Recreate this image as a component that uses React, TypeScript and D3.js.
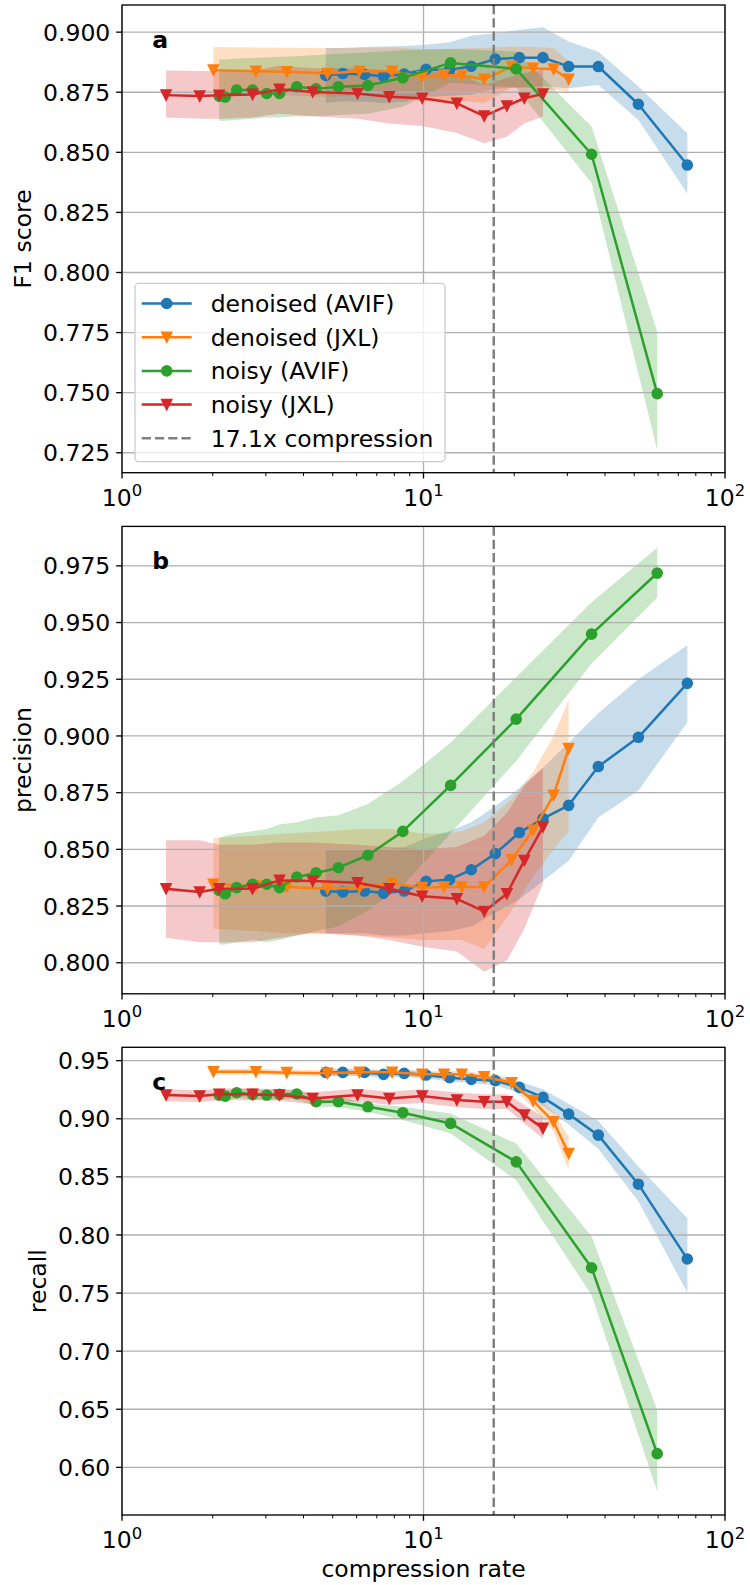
import React from "react";
import * as d3 from "d3";

const width = 750;
const height = 1585;
const left = 122;
const right = 725;
const fontSize = 23.5;
const font = "DejaVu Sans, Verdana, sans-serif";
const blue = "#1f77b4";
const orange = "#ff7f0e";
const green = "#2ca02c";
const red = "#d62728";
const cutoff = 17.1;

// compression rates of each run
const xDenoisedAvif = [4.74, 5.4, 6.37, 7.37, 8.63, 10.2, 12.2, 14.4, 17.3, 20.8, 24.9, 30.3, 38.0, 51.6, 75.0];
const xDenoisedJxl = [2.01, 2.78, 3.52, 4.8, 6.13, 7.87, 9.9, 11.7, 13.4, 15.9, 19.6, 23.1, 27.0, 30.3];
const xNoisyAvif = [2.1, 2.2, 2.4, 2.71, 3.02, 3.33, 3.8, 4.4, 5.22, 6.54, 8.54, 12.3, 20.3, 36.1, 59.6];
const xNoisyJxl = [1.4, 1.81, 2.1, 2.71, 3.33, 4.29, 6.04, 7.7, 9.9, 12.9, 15.9, 18.9, 21.6, 24.9];

// F1 score
const f1DenoisedAvif = [0.882, 0.8828, 0.8824, 0.8817, 0.8826, 0.8845, 0.8843, 0.8858, 0.8888, 0.8894, 0.8894, 0.8857, 0.8857, 0.87, 0.8447];
const f1DenoisedAvifHi = [0.8934, 0.8934, 0.8938, 0.894, 0.8942, 0.8948, 0.8958, 0.8985, 0.8995, 0.901, 0.902, 0.8961, 0.8919, 0.8774, 0.8579];
const f1DenoisedAvifLo = [0.8706, 0.8712, 0.871, 0.8705, 0.871, 0.873, 0.8735, 0.874, 0.8765, 0.877, 0.8775, 0.8767, 0.878, 0.8635, 0.8329];
const f1DenoisedJxl = [0.8842, 0.8837, 0.8835, 0.8828, 0.8837, 0.8837, 0.8814, 0.8822, 0.882, 0.8804, 0.8857, 0.885, 0.8846, 0.8804];
const f1DenoisedJxlHi = [0.8938, 0.8936, 0.8935, 0.8934, 0.8935, 0.8936, 0.893, 0.893, 0.8932, 0.8935, 0.894, 0.8938, 0.8933, 0.888];
const f1DenoisedJxlLo = [0.8745, 0.874, 0.8738, 0.873, 0.8738, 0.8738, 0.8712, 0.8718, 0.8715, 0.8705, 0.877, 0.8768, 0.876, 0.8753];
const f1NoisyAvif = [0.8734, 0.873, 0.8759, 0.8759, 0.8745, 0.8745, 0.8773, 0.8764, 0.8773, 0.8778, 0.881, 0.8872, 0.8847, 0.8492, 0.7496];
const f1NoisyAvifHi = [0.8886, 0.8886, 0.889, 0.8893, 0.8895, 0.8898, 0.89, 0.8905, 0.891, 0.8915, 0.8925, 0.893, 0.892, 0.8607, 0.7753];
const f1NoisyAvifLo = [0.8631, 0.8631, 0.8635, 0.864, 0.8645, 0.8645, 0.865, 0.865, 0.8655, 0.866, 0.869, 0.879, 0.877, 0.8371, 0.726];
const f1NoisyJxl = [0.8738, 0.8734, 0.8737, 0.8741, 0.8762, 0.8751, 0.8745, 0.8731, 0.8725, 0.8704, 0.8651, 0.8693, 0.8725, 0.8743];
const f1NoisyJxlHi = [0.884, 0.8838, 0.8838, 0.884, 0.886, 0.885, 0.885, 0.884, 0.884, 0.883, 0.878, 0.881, 0.883, 0.8843];
const f1NoisyJxlLo = [0.8645, 0.864, 0.864, 0.8645, 0.866, 0.865, 0.864, 0.862, 0.861, 0.858, 0.8538, 0.8565, 0.862, 0.8649];

// precision
const prDenoisedAvif = [0.8316, 0.8312, 0.8316, 0.8307, 0.8316, 0.8359, 0.8366, 0.841, 0.8481, 0.8574, 0.8635, 0.8694, 0.8865, 0.8994, 0.9232];
const prDenoisedAvifHi = [0.85, 0.85, 0.85, 0.85, 0.851, 0.855, 0.858, 0.862, 0.869, 0.877, 0.886, 0.897, 0.91, 0.925, 0.94];
const prDenoisedAvifLo = [0.813, 0.813, 0.813, 0.812, 0.812, 0.813, 0.814, 0.816, 0.822, 0.828, 0.836, 0.845, 0.864, 0.876, 0.906];
const prDenoisedJxl = [0.8346, 0.8337, 0.8334, 0.8326, 0.8331, 0.8349, 0.8331, 0.8334, 0.8334, 0.8334, 0.8454, 0.8584, 0.8738, 0.8944];
const prDenoisedJxlHi = [0.855, 0.856, 0.857, 0.858, 0.859, 0.859, 0.857, 0.857, 0.858, 0.862, 0.872, 0.884, 0.9, 0.916];
const prDenoisedJxlLo = [0.815, 0.814, 0.813, 0.813, 0.812, 0.811, 0.81, 0.81, 0.81, 0.806, 0.823, 0.838, 0.85, 0.858];
const prNoisyAvif = [0.8319, 0.8304, 0.8331, 0.8346, 0.8346, 0.8331, 0.8378, 0.8396, 0.8419, 0.8474, 0.8579, 0.8782, 0.9074, 0.9449, 0.9718];
const prNoisyAvifHi = [0.855, 0.856, 0.857, 0.858, 0.859, 0.861, 0.862, 0.864, 0.865, 0.87, 0.88, 0.897, 0.926, 0.959, 0.983];
const prNoisyAvifLo = [0.808, 0.808, 0.809, 0.81, 0.809, 0.81, 0.812, 0.814, 0.816, 0.823, 0.834, 0.857, 0.889, 0.932, 0.961];
const prNoisyJxl = [0.8326, 0.8312, 0.8326, 0.8326, 0.8363, 0.836, 0.8353, 0.8326, 0.8293, 0.8282, 0.8226, 0.8304, 0.8451, 0.8599];
const prNoisyJxlHi = [0.854, 0.854, 0.852, 0.852, 0.853, 0.853, 0.852, 0.851, 0.85, 0.851, 0.856, 0.866, 0.878, 0.886];
const prNoisyJxlLo = [0.811, 0.809, 0.809, 0.809, 0.811, 0.813, 0.812, 0.81, 0.807, 0.805, 0.796, 0.801, 0.815, 0.835];

// recall
const reDenoisedAvif = [0.9399, 0.9399, 0.9399, 0.9382, 0.9391, 0.9376, 0.9353, 0.9339, 0.9328, 0.927, 0.9184, 0.904, 0.8859, 0.8437, 0.7793];
const reDenoisedAvifHi = [0.943, 0.943, 0.943, 0.9412, 0.9421, 0.9406, 0.9385, 0.9372, 0.9365, 0.932, 0.9255, 0.913, 0.898, 0.859, 0.8144];
const reDenoisedAvifLo = [0.9368, 0.9368, 0.9368, 0.9352, 0.9361, 0.9346, 0.9322, 0.9306, 0.929, 0.922, 0.911, 0.895, 0.874, 0.829, 0.7504];
const reDenoisedJxl = [0.9405, 0.9405, 0.9397, 0.9391, 0.94, 0.94, 0.9382, 0.9382, 0.9382, 0.9362, 0.931, 0.9155, 0.8974, 0.8701];
const reDenoisedJxlHi = [0.943, 0.943, 0.9422, 0.9418, 0.9425, 0.9425, 0.941, 0.941, 0.941, 0.9392, 0.935, 0.9215, 0.906, 0.8845];
const reDenoisedJxlLo = [0.938, 0.938, 0.9372, 0.9364, 0.9375, 0.9375, 0.9354, 0.9354, 0.9354, 0.9332, 0.927, 0.9095, 0.889, 0.8557];
const reNoisyAvif = [0.9204, 0.9195, 0.9224, 0.921, 0.9204, 0.921, 0.9213, 0.9147, 0.9147, 0.9103, 0.9052, 0.896, 0.8629, 0.7718, 0.6118];
const reNoisyAvifHi = [0.9245, 0.924, 0.9265, 0.9252, 0.9246, 0.9252, 0.9255, 0.919, 0.9192, 0.9132, 0.9103, 0.9046, 0.8787, 0.7986, 0.6494];
const reNoisyAvifLo = [0.9163, 0.915, 0.9183, 0.9168, 0.9162, 0.9168, 0.9171, 0.9104, 0.9102, 0.906, 0.8989, 0.8874, 0.8471, 0.7483, 0.5793];
const reNoisyJxl = [0.9204, 0.9195, 0.921, 0.921, 0.9204, 0.9175, 0.9204, 0.9175, 0.9195, 0.9161, 0.9147, 0.9147, 0.9032, 0.8917];
const reNoisyJxlHi = [0.9253, 0.9245, 0.926, 0.926, 0.9255, 0.9228, 0.9258, 0.9232, 0.9255, 0.9225, 0.9212, 0.9212, 0.9118, 0.9017];
const reNoisyJxlLo = [0.915, 0.9145, 0.916, 0.916, 0.9155, 0.9125, 0.915, 0.912, 0.9135, 0.91, 0.9085, 0.9085, 0.896, 0.883];

const seriesNames = ["denoised (AVIF)", "denoised (JXL)", "noisy (AVIF)", "noisy (JXL)"];
const seriesColors = [blue, orange, green, red];
const seriesMarkers = ["o", "v", "o", "v"];
const seriesX = [xDenoisedAvif, xDenoisedJxl, xNoisyAvif, xNoisyJxl];

const f1Ticks = [0.725, 0.75, 0.775, 0.8, 0.825, 0.85, 0.875, 0.9];
const prTicks = [0.8, 0.825, 0.85, 0.875, 0.9, 0.925, 0.95, 0.975];
const reTicks = [0.6, 0.65, 0.7, 0.75, 0.8, 0.85, 0.9, 0.95];
const xMajor = [1, 10, 100];
const xMajorExp = ["0", "1", "2"];

const panels = [
  {
    letter: "a", label: "F1 score", top: 5, bottom: 472.7, domain: [0.7167, 0.9113], ticks: f1Ticks, digits: 3, legend: true,
    y: [f1DenoisedAvif, f1DenoisedJxl, f1NoisyAvif, f1NoisyJxl],
    hi: [f1DenoisedAvifHi, f1DenoisedJxlHi, f1NoisyAvifHi, f1NoisyJxlHi],
    lo: [f1DenoisedAvifLo, f1DenoisedJxlLo, f1NoisyAvifLo, f1NoisyJxlLo],
  },
  {
    letter: "b", label: "precision", top: 526.4, bottom: 993.8, domain: [0.7863, 0.9924], ticks: prTicks, digits: 3, legend: false,
    y: [prDenoisedAvif, prDenoisedJxl, prNoisyAvif, prNoisyJxl],
    hi: [prDenoisedAvifHi, prDenoisedJxlHi, prNoisyAvifHi, prNoisyJxlHi],
    lo: [prDenoisedAvifLo, prDenoisedJxlLo, prNoisyAvifLo, prNoisyJxlLo],
  },
  {
    letter: "c", label: "recall", top: 1047.3, bottom: 1515, domain: [0.559, 0.9615], ticks: reTicks, digits: 2, legend: false,
    y: [reDenoisedAvif, reDenoisedJxl, reNoisyAvif, reNoisyJxl],
    hi: [reDenoisedAvifHi, reDenoisedJxlHi, reNoisyAvifHi, reNoisyJxlHi],
    lo: [reDenoisedAvifLo, reDenoisedJxlLo, reNoisyAvifLo, reNoisyJxlLo],
  },
];

const xScale = d3.scaleLog().domain([1, 100]).range([left, right]);
const minorTicks = [2, 3, 4, 5, 6, 7, 8, 9, 20, 30, 40, 50, 60, 70, 80, 90];
const triangle = "M0,5L-5,-5L5,-5Z";

function Marker({ kind, x, y, color }) {
  if (kind === "o") {
    return <circle cx={x} cy={y} r={5} fill={color} stroke={color} strokeWidth={1.6} />;
  }
  return <path d={triangle} transform={`translate(${x},${y})`} fill={color} stroke={color} strokeWidth={1.6} strokeLinejoin="miter" />;
}

function Panel({ p }) {
  const yScale = d3.scaleLinear().domain(p.domain).range([p.bottom, p.top]);
  const tickLabelRight = left - 11.7;
  const labelWidth = (p.digits + 1) * 0.636 * fontSize + 0.318 * fontSize;
  const yLabelX = tickLabelRight - labelWidth - 12.2;
  const midY = (p.top + p.bottom) / 2;

  const areas = seriesX.map((xs, s) =>
    d3.area<number>()
      .x((_, i) => xScale(xs[i]))
      .y0((_, i) => yScale(p.lo[s][i]))
      .y1((_, i) => yScale(p.hi[s][i]))(p.y[s])
  );
  const lines = seriesX.map((xs, s) =>
    d3.line<number>()
      .x((_, i) => xScale(xs[i]))
      .y((d) => yScale(d))(p.y[s])
  );

  return (
    <g>
      {/* bands */}
      {areas.map((d, s) => (
        <path key={"a" + s} d={d} fill={seriesColors[s]} fillOpacity={0.25} stroke="none" />
      ))}
      {/* grid */}
      {p.ticks.map((t) => (
        <line key={"gy" + t} x1={left} x2={right} y1={yScale(t)} y2={yScale(t)} stroke="#b0b0b0" strokeWidth={1.33} />
      ))}
      {xMajor.map((t) => (
        <line key={"gx" + t} x1={xScale(t)} x2={xScale(t)} y1={p.top} y2={p.bottom} stroke="#b0b0b0" strokeWidth={1.33} />
      ))}
      {/* lines + markers */}
      {lines.map((d, s) => (
        <g key={"l" + s}>
          <path d={d} fill="none" stroke={seriesColors[s]} strokeWidth={2.5} strokeLinejoin="round" strokeLinecap="square" />
          {p.y[s].map((v, i) => (
            <Marker key={i} kind={seriesMarkers[s]} x={xScale(seriesX[s][i])} y={yScale(v)} color={seriesColors[s]} />
          ))}
        </g>
      ))}
      {/* cutoff */}
      <line x1={xScale(cutoff)} x2={xScale(cutoff)} y1={p.top} y2={p.bottom} stroke="#808080" strokeWidth={2.5} strokeDasharray="9.25,4" />
      {/* frame */}
      <rect x={left} y={p.top} width={right - left} height={p.bottom - p.top} fill="none" stroke="#000" strokeWidth={1.33} />
      {/* y ticks */}
      {p.ticks.map((t) => (
        <g key={"ty" + t}>
          <line x1={left - 5.8} x2={left} y1={yScale(t)} y2={yScale(t)} stroke="#000" strokeWidth={1.33} />
          <text x={tickLabelRight} y={yScale(t) + 0.3645 * fontSize} textAnchor="end" fontSize={fontSize} fill="#000">
            {t.toFixed(p.digits)}
          </text>
        </g>
      ))}
      {/* x ticks */}
      {xMajor.map((t, i) => (
        <g key={"tx" + t}>
          <line x1={xScale(t)} x2={xScale(t)} y1={p.bottom} y2={p.bottom + 5.8} stroke="#000" strokeWidth={1.33} />
          <text x={xScale(t)} y={p.bottom + 33} textAnchor="middle" fontSize={fontSize} fill="#000">
            10<tspan dy={-9.5} fontSize={fontSize * 0.7}>{xMajorExp[i]}</tspan>
          </text>
        </g>
      ))}
      {minorTicks.map((t) => (
        <line key={"mx" + t} x1={xScale(t)} x2={xScale(t)} y1={p.bottom} y2={p.bottom + 3.3} stroke="#000" strokeWidth={1} />
      ))}
      <text x={yLabelX} y={midY} transform={`rotate(-90, ${yLabelX}, ${midY})`} textAnchor="middle" fontSize={fontSize} fill="#000">
        {p.label}
      </text>
      <text x={left + 30.2} y={p.top + 42.5} fontSize={fontSize} fontWeight="bold" fill="#000">
        {p.letter}
      </text>
      {p.legend && <Legend />}
    </g>
  );
}

function Legend() {
  const x0 = 135;
  const y0 = 283.3;
  const rowY = [303.5, 337.2, 370.9, 404.6, 438.3];
  return (
    <g>
      <rect x={x0} y={y0} width={310} height={178.4} rx={4} fill="#fff" fillOpacity={0.8} stroke="#cccccc" strokeWidth={1.33} />
      {seriesNames.map((name, s) => (
        <g key={name}>
          <line x1={141.7} x2={191.7} y1={rowY[s]} y2={rowY[s]} stroke={seriesColors[s]} strokeWidth={2.5} />
          <Marker kind={seriesMarkers[s]} x={166.7} y={rowY[s]} color={seriesColors[s]} />
          <text x={210.7} y={rowY[s] + 0.3645 * fontSize} fontSize={fontSize} fill="#000">{name}</text>
        </g>
      ))}
      <line x1={141.7} x2={191.7} y1={rowY[4]} y2={rowY[4]} stroke="#808080" strokeWidth={2.5} strokeDasharray="9.25,4" />
      <text x={210.7} y={rowY[4] + 0.3645 * fontSize} fontSize={fontSize} fill="#000">{`${cutoff}x compression`}</text>
    </g>
  );
}

export default function App() {
  return (
    <svg
      width={width}
      height={height}
      style={{ position: "absolute", left: 0, top: 0, background: "#fff" }}
      fontFamily={font}
    >
      <rect width={width} height={height} fill="#fff" />
      {panels.map((p) => (
        <Panel key={p.letter} p={p} />
      ))}
      <text x={(left + right) / 2} y={1577} textAnchor="middle" fontSize={fontSize} fill="#000">
        compression rate
      </text>
    </svg>
  );
}
